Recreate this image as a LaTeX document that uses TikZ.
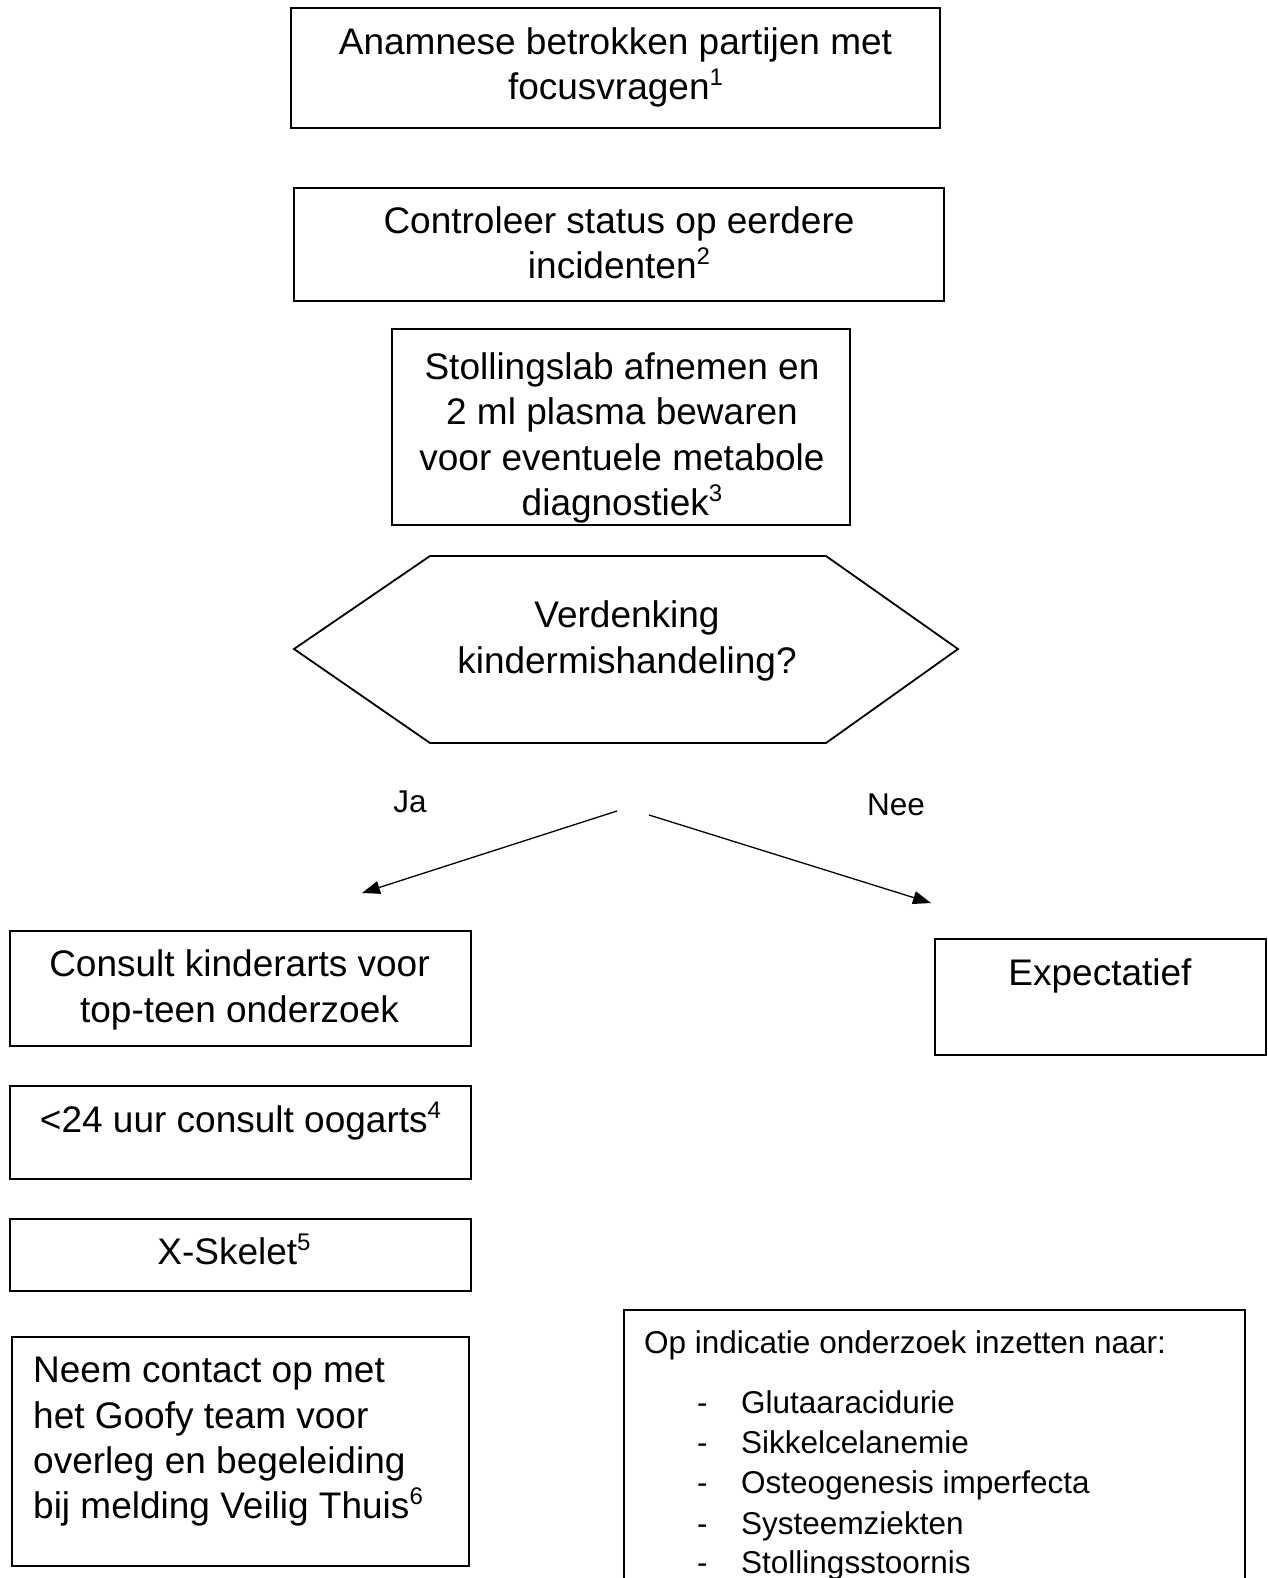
\documentclass[tikz,border=0pt]{standalone}
\usepackage{fontspec}
\setmainfont{Liberation Sans}
\usetikzlibrary{arrows.meta}
\newcommand\supnum[1]{\raisebox{14pt}{\fontsize{24}{24}\selectfont #1}}
\begin{document}
\begin{tikzpicture}[x=1pt,y=-1pt,
  box/.style={draw,line width=1.8pt,inner sep=0pt},
  txt/.style={inner sep=0pt,font=\fontsize{37}{45.3}\selectfont,align=center},
  small/.style={inner sep=0pt,font=\fontsize{31.5}{40}\selectfont},
  arr/.style={line width=1.3pt,-{Triangle[length=18pt,width=13pt]}}]
\useasboundingbox (0,0) rectangle (1267,1578);
\fill[white] (0,0) rectangle (1267,1578);

% top boxes
\node[box,minimum width=649pt,minimum height=120pt] (b1) at (615.5,68) {};
\node[txt] (t1) at (615.5,67.3) {Anamnese betrokken partijen met\\focusvragen\supnum{1}};

\node[box,minimum width=650pt,minimum height=113pt] (b2) at (619,244.5) {};
\node[txt] (t2) at (619,242.5) {Controleer status op eerdere\\incidenten\supnum{2}};

\begin{scope}
\clip (392,329) rectangle (850,525);
\node[txt] (t3) at (622,438) {Stollingslab afnemen en\\2 ml plasma bewaren\\voor eventuele metabole\\diagnostiek\supnum{3}};
\end{scope}
\node[box,minimum width=458pt,minimum height=196pt] (b3) at (621,427) {};

% decision hexagon
\draw[line width=1.8pt] (294,649) coordinate (hl) -- (430,556) -- (826,556) -- (958,649) coordinate (hr) -- (826,743) -- (430,743) -- cycle;
\node[txt] (t4) at (627,641) {Verdenking\\kindermishandeling?};

% branches
\node[small] (ja) at (410,802) {Ja};
\node[small] (nee) at (896,805) {Nee};
\coordinate (jas) at (617,811);
\coordinate (jae) at (362,893);
\coordinate (nees) at (649,815);
\coordinate (neee) at (931,903);
\draw[arr] (jas) -- (jae);
\draw[arr] (nees) -- (neee);

% left column
\node[box,minimum width=461pt,minimum height=115pt] (b5) at (240.5,988.5) {};
\node[txt] (t5) at (239.5,990) {Consult kinderarts voor\\top-teen onderzoek};

\node[box,minimum width=461pt,minimum height=93pt] (b6) at (240.5,1132.5) {};
\node[txt,anchor=base] (t6) at (240.5,1132) {<24 uur consult oogarts\supnum{4}};

\node[box,minimum width=461pt,minimum height=72pt] (b7) at (240.5,1255) {};
\node[txt,anchor=base] (t7) at (234,1264) {X-Skelet\supnum{5}};

\node[box,minimum width=457pt,minimum height=229pt] (b8) at (240.5,1451.5) {};
\node[txt,align=left,anchor=west] (t8) at (33,1442) {Neem contact op met\\het Goofy team voor\\overleg en begeleiding\\bij melding Veilig Thuis\supnum{6}};

% right column
\node[box,minimum width=331pt,minimum height=116pt] (b9) at (1100.5,997) {};
\node[txt,anchor=base] (t9) at (1100,985) {Expectatief};

\node[box,minimum width=621pt,minimum height=320pt] (b10) at (934.5,1470) {};
\node[small,anchor=base west] (l0) at (644,1353) {Op indicatie onderzoek inzetten naar:};
\foreach \i/\y/\t in {1/1413/Glutaaracidurie,2/1453/Sikkelcelanemie,3/1493/Osteogenesis imperfecta,4/1534/Systeemziekten,5/1573/Stollingsstoornis}{
  \node[small,anchor=base west] (d\i) at (697,\y) {-};
  \node[small,anchor=base west] (l\i) at (741,\y) {\t};
}
\end{tikzpicture}
\end{document}
